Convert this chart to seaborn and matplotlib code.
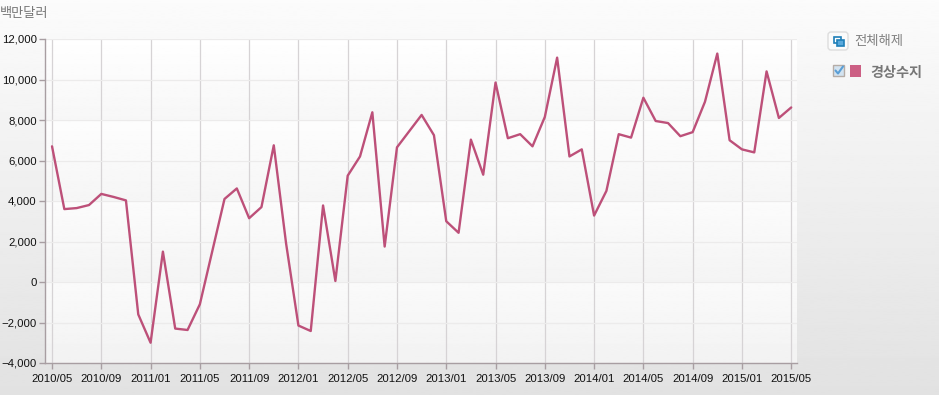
import numpy as np
import pandas as pd
import matplotlib
matplotlib.use('Agg')
import matplotlib.pyplot as plt
from matplotlib.patches import FancyBboxPatch, Rectangle
import seaborn as sns

months = pd.date_range('2010-05-01', '2015-05-01', freq='MS').strftime('%Y/%m').tolist()
balance = [6700, 3600, 3650, 3800, 4350, 4200, 4030, -1600,
           -3000, 1500, -2300, -2370, -1100, 1500, 4100, 4620, 3150, 3700, 6750, 1900,
           -2150, -2420, 3780, 50, 5250, 6200, 8380, 1750, 6650, 7450, 8250, 7250,
           3000, 2430, 7030, 5300, 9850, 7100, 7300, 6700, 8150, 11080, 6200, 6550,
           3280, 4500, 7300, 7130, 9100, 7950, 7850, 7200, 7400, 8900, 11280, 7000,
           6550, 6400, 10400, 8100, 8620]
y_ticks = [-4000, -2000, 0, 2000, 4000, 6000, 8000, 10000, 12000]

W, H = 939, 395
sns.set_style('white')
plt.rcParams['font.family'] = ['Liberation Sans', 'Noto Sans CJK KR', 'DejaVu Sans']

df = pd.DataFrame({'month': range(len(months)), 'value': balance})

fig = plt.figure(figsize=(W / 100, H / 100), dpi=100)

# page background, light at the top and grey at the bottom
bg = fig.add_axes([0, 0, 1, 1], zorder=0)
bg.imshow(np.linspace(0.985, 0.885, 200).reshape(-1, 1), cmap='gray', vmin=0, vmax=1,
          aspect='auto', extent=[0, W, H, 0])
bg.set_xlim(0, W)
bg.set_ylim(H, 0)
bg.axis('off')

ax = fig.add_axes([45 / W, 1 - 363 / H, (797 - 45) / W, (363 - 39) / H], zorder=1)
ax.set_xlim(-0.57, 60.47)
ax.set_ylim(-4000, 12000)

# plot area gradient, soft bands that fade back to light
shade = np.concatenate([np.linspace(0.998 - 0.006 * i, 0.968 - 0.006 * i, 50) for i in range(4)])
ax.imshow(shade.reshape(-1, 1), cmap='gray', vmin=0, vmax=1, aspect='auto',
          extent=[-0.57, 60.47, -4000, 12000], zorder=0, interpolation='bilinear')

sns.lineplot(data=df, x='month', y='value', color='#bd5079', linewidth=1.7, ax=ax, zorder=3)

ax.set_xticks(df['month'][::4])
ax.set_xticklabels(months[::4])
ax.set_yticks(y_ticks)
ax.set_yticklabels([f'{v:,}'.replace('-', '\u2212') for v in y_ticks])
ax.set_xlabel('')
ax.set_ylabel('')
ax.grid(axis='x', color='#d6d3d5', linewidth=0.9)
ax.grid(axis='y', color='#ecebeb', linewidth=0.9)
ax.set_axisbelow(True)
ax.tick_params(axis='both', length=4, width=1, color='#a89ea2', labelsize=8.2,
               labelcolor='#111111', pad=2, bottom=True, left=True)
ax.tick_params(axis='x', pad=4)
for side in ['top', 'right']:
    ax.spines[side].set_visible(False)
for side in ['left', 'bottom']:
    ax.spines[side].set_color('#a89ea2')
    ax.spines[side].set_linewidth(1)

# unit label and the legend block drawn in pixel coordinates
over = fig.add_axes([0, 0, 1, 1], zorder=2)
over.set_xlim(0, W)
over.set_ylim(H, 0)
over.axis('off')
over.patch.set_alpha(0)

over.text(0, 14, '백만달러', fontsize=9.5, color='#777777', va='center', ha='left')

over.add_patch(FancyBboxPatch((828, 32), 20, 18, boxstyle='round,pad=0,rounding_size=3',
                              fc='#fbfbfb', ec='#dddddd', lw=1))
over.add_patch(Rectangle((834, 37), 7, 6, fc='#ffffff', ec='#1f7fb8', lw=1.2))
over.add_patch(Rectangle((837, 40), 7, 6, fc='#5aa9dc', ec='#1f7fb8', lw=1.2))
over.text(854, 42, '전체해제', fontsize=9.6, color='#808080', va='center', ha='left')

over.add_patch(Rectangle((833, 65), 11, 11, fc='#d3e3f0', ec='#b5aca6', lw=1))
over.plot([835.5, 838, 843], [70.5, 73.5, 66.5], color='#5b9fd6', lw=1.5)
over.add_patch(Rectangle((850, 65), 11, 12, fc='#cc5f84', ec='none'))
over.text(870, 73, '경상수지', fontsize=10.2, color='#777777', fontweight='bold',
          va='center', ha='left')

fig.savefig('out.png', dpi=100)
